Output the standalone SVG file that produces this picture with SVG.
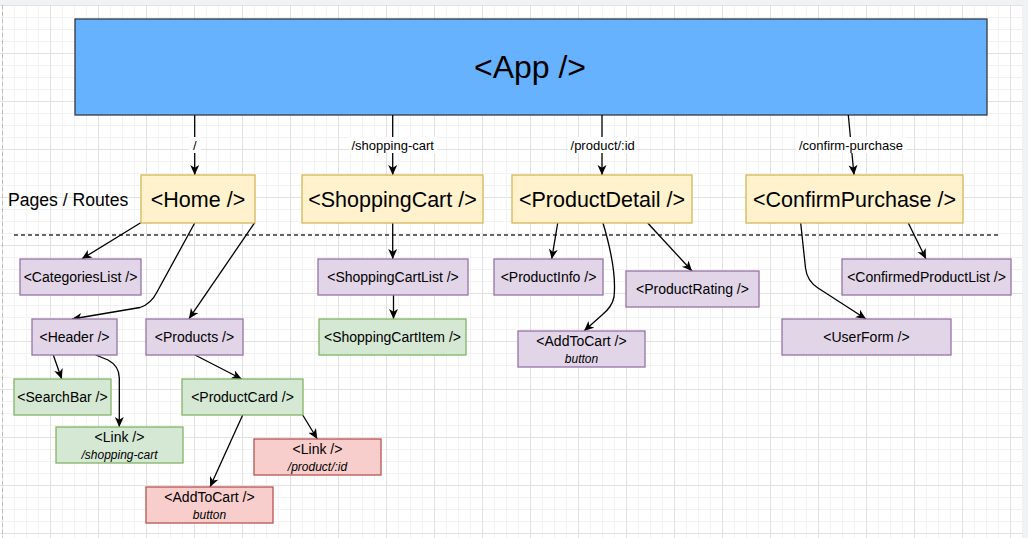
<svg xmlns="http://www.w3.org/2000/svg" width="1028" height="538" viewBox="0 0 1028 538">
<defs>
<pattern id="grid" x="2" y="5" width="48" height="48" patternUnits="userSpaceOnUse">
<path d="M12.5,0V48M24.5,0V48M36.5,0V48M0,12.5H48M0,24.5H48M0,36.5H48" stroke="#f2f2f2" stroke-width="1" fill="none"/>
<path d="M0.5,0V48M0,0.5H48" stroke="#e2e2e2" stroke-width="1" fill="none"/>
</pattern>
<marker id="arr" viewBox="0 0 10 10" markerWidth="10" markerHeight="10" markerUnits="userSpaceOnUse" refX="10" refY="5" orient="auto">
<path d="M0,0.5 L10,5 L0,9.5 L2.8,5 Z" fill="#000"/>
</marker>
<style>
.n{stroke-width:1.3}
.app{fill:#66b2ff;stroke:#36393d}
.y{fill:#fff2cc;stroke:#d6b656}
.p{fill:#e1d5e7;stroke:#9673a6}
.g{fill:#d5e8d4;stroke:#82b366}
.r{fill:#f8cecc;stroke:#b85450}
text{font-family:"Liberation Sans",Arial,sans-serif;fill:#000;text-anchor:middle}
.t14{font-size:14px}
.t22{font-size:21.5px}
.t32{font-size:32px}
.i12{font-size:12px;font-style:italic}
.lbl{font-size:13px}
.e{fill:none;stroke:#000;stroke-width:1.3;marker-end:url(#arr)}
.lb{fill:#fff}
</style>
</defs>
<rect x="0" y="0" width="1028" height="538" fill="#fff"/>
<rect x="0" y="0" width="1028" height="538" fill="url(#grid)"/>
<rect x="0" y="0" width="1028" height="5" fill="#f1f2f4"/>
<rect x="1023" y="0" width="5" height="538" fill="#f1f2f4"/>
<line x1="2.5" y1="5" x2="2.5" y2="538" stroke="#bdbdbd" stroke-width="1" stroke-dasharray="4,3"/>

<g id="app"><rect class="n app" x="75" y="19" width="912" height="96"/><text class="t32" x="530" y="78">&lt;App /&gt;</text></g>

<text x="8" y="206" style="font-size:17.6px;text-anchor:start">Pages / Routes</text>
<line x1="14" y1="235" x2="998" y2="235" stroke="#333" stroke-width="1.3" stroke-dasharray="4,3"/>

<g id="connectors">
<path class="e" d="M194.7,115 L194.7,175"/>
<path class="e" d="M392.7,115 L392.7,175"/>
<path class="e" d="M602,115 L602,175"/>
<path class="e" d="M848.3,115 L854,175"/>
<path class="e" d="M140.7,222.7 L81.7,259"/>
<path class="e" d="M194.7,223 L157,292 Q151,304 140,307.5 L72,319"/>
<path class="e" d="M254.7,222.7 L189,318.7"/>
<path class="e" d="M53.3,355 L61.7,379"/>
<path class="e" d="M95.7,355 L108,360 Q119.3,366 119.3,378 L119.3,427"/>
<path class="e" d="M195,355 L241.7,379"/>
<path class="e" d="M242.7,415 L210,487"/>
<path class="e" d="M302.7,415 L317.3,439"/>
<path class="e" d="M392.7,223 L392.7,259"/>
<path class="e" d="M393.5,295 L393.5,319"/>
<path class="e" d="M557.7,223 L551.7,259"/>
<path class="e" d="M603,223 Q617,270 614,297 Q612,307 602,315 L584,331"/>
<path class="e" d="M647.7,223 L692,271"/>
<path class="e" d="M908.3,223 L926,259"/>
<path class="e" d="M800.7,223 L805.5,268 Q807,281 818,288 L866,319"/>
<rect class="lb" x="189" y="137" width="12" height="16"/>
<text class="lbl" x="194.7" y="149.5">/</text>
<rect class="lb" x="349" y="137" width="88" height="16"/>
<text class="lbl" x="392.7" y="149.5">/shopping-cart</text>
<rect class="lb" x="568" y="137" width="69" height="16"/>
<text class="lbl" x="602.7" y="149.5">/product/:id</text>
<rect class="lb" x="796" y="137" width="110" height="16"/>
<text class="lbl" x="851" y="149.5">/confirm-purchase</text>
</g>

<g id="home"><rect class="n y" x="141" y="175" width="114" height="48"/><text class="t22" x="198" y="207">&lt;Home /&gt;</text></g>
<g id="shoppingcart"><rect class="n y" x="302" y="175" width="181" height="48"/><text class="t22" x="392.5" y="207">&lt;ShoppingCart /&gt;</text></g>
<g id="productdetail"><rect class="n y" x="512" y="175" width="180" height="48"/><text class="t22" x="602" y="207">&lt;ProductDetail /&gt;</text></g>
<g id="confirmpurchase"><rect class="n y" x="746" y="175" width="217" height="48"/><text class="t22" x="854.5" y="207">&lt;ConfirmPurchase /&gt;</text></g>

<g id="categorieslist"><rect class="n p" x="20" y="259" width="121" height="36"/><text class="t14" x="80.5" y="282">&lt;CategoriesList /&gt;</text></g>
<g id="header"><rect class="n p" x="32" y="319" width="85" height="36"/><text class="t14" x="74.5" y="342">&lt;Header /&gt;</text></g>
<g id="products"><rect class="n p" x="146" y="319" width="97" height="36"/><text class="t14" x="194.5" y="342">&lt;Products /&gt;</text></g>
<g id="searchbar"><rect class="n g" x="14" y="379" width="97" height="36"/><text class="t14" x="62.5" y="402">&lt;SearchBar /&gt;</text></g>
<g id="link-cart"><rect class="n g" x="56" y="427" width="127" height="36"/><text class="t14" x="119.5" y="442">&lt;Link /&gt;</text><text class="i12" x="119.5" y="459">/shopping-cart</text></g>
<g id="productcard"><rect class="n g" x="182" y="379" width="121" height="36"/><text class="t14" x="242.5" y="402">&lt;ProductCard /&gt;</text></g>
<g id="link-product"><rect class="n r" x="254" y="439" width="127" height="36"/><text class="t14" x="317.5" y="454">&lt;Link /&gt;</text><text class="i12" x="317.5" y="471">/product/:id</text></g>
<g id="addtocart-card"><rect class="n r" x="146" y="487" width="127" height="36"/><text class="t14" x="209.5" y="502">&lt;AddToCart /&gt;</text><text class="i12" x="209.5" y="519">button</text></g>
<g id="shoppingcartlist"><rect class="n p" x="318" y="259" width="150" height="36"/><text class="t14" x="393" y="282">&lt;ShoppingCartList /&gt;</text></g>
<g id="shoppingcartitem"><rect class="n g" x="319" y="319" width="147" height="36"/><text class="t14" x="392.5" y="342">&lt;ShoppingCartItem /&gt;</text></g>
<g id="productinfo"><rect class="n p" x="494" y="259" width="109" height="36"/><text class="t14" x="548.5" y="282">&lt;ProductInfo /&gt;</text></g>
<g id="productrating"><rect class="n p" x="626" y="271" width="133" height="36"/><text class="t14" x="692.5" y="294">&lt;ProductRating /&gt;</text></g>
<g id="addtocart-detail"><rect class="n p" x="518" y="331" width="127" height="36"/><text class="t14" x="581.5" y="346">&lt;AddToCart /&gt;</text><text class="i12" x="581.5" y="363">button</text></g>
<g id="confirmedproductlist"><rect class="n p" x="842" y="259" width="169" height="36"/><text class="t14" x="926.5" y="282">&lt;ConfirmedProductList /&gt;</text></g>
<g id="userform"><rect class="n p" x="782" y="319" width="169" height="36"/><text class="t14" x="866.5" y="342">&lt;UserForm /&gt;</text></g>
</svg>
